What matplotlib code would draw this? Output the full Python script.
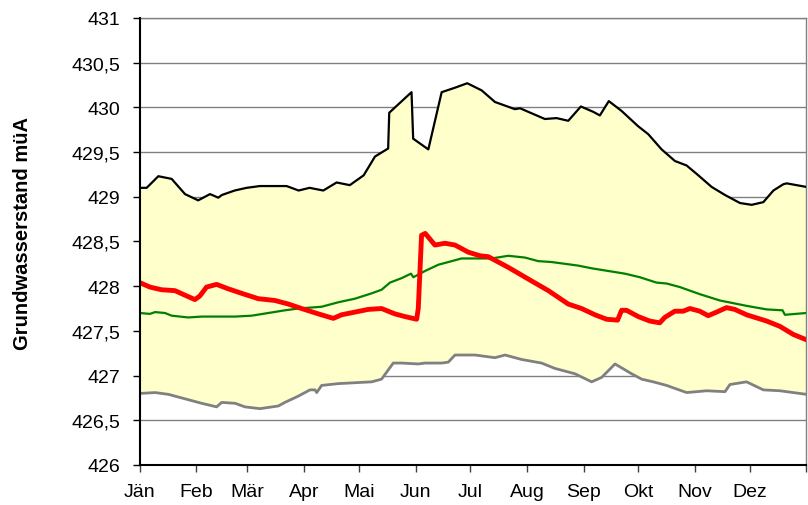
"""
plot.py
=======
Grundwasserstand im Jahresverlauf: Schwankungsbereich (Min/Max),
langjähriges Mittel und aktueller Verlauf.
"""

import matplotlib
matplotlib.use("Agg")
import matplotlib.pyplot as plt
from matplotlib.ticker import FuncFormatter, MultipleLocator

plt.rcParams["font.family"] = ["Liberation Sans", "DejaVu Sans"]

# ---------------------------------------------------------------------------
# Data (Tag im Jahr -> Wasserstand in m ü.A.)
# ---------------------------------------------------------------------------

month_labels = ["Jän", "Feb", "Mär", "Apr", "Mai", "Jun",
                "Jul", "Aug", "Sep", "Okt", "Nov", "Dez"]
month_starts = [0, 31, 59, 90, 120, 151, 181, 212, 243, 273, 304, 334]

max_days = [0, 3.8, 10.2, 17.5, 24.8, 32, 38.5, 43, 45, 52, 58.5, 65.8,
            74, 80.4, 87, 93, 100.5, 107.8, 115, 122.6, 128.8, 136, 136.6,
            148.8, 149.7, 158, 165.3, 172.6, 179.3, 187.2, 194.5, 205.4,
            208.2, 221.8, 228.2, 234.6, 241.5, 248.3, 251.9, 256.8, 263.8,
            272.8, 278.4, 285.7, 293, 299.4, 305.8, 313.1, 320.4, 328.6,
            335, 341.4, 346.9, 352.3, 354.2, 365]
max_vals = [429.10, 429.10, 429.23, 429.20, 429.03, 428.96, 429.03, 428.99,
            429.02, 429.07, 429.10, 429.12, 429.12, 429.12, 429.07, 429.10,
            429.07, 429.16, 429.13, 429.24, 429.45, 429.54, 429.94, 430.17,
            429.65, 429.53, 430.17, 430.22, 430.27, 430.19, 430.06, 429.98,
            429.99, 429.87, 429.88, 429.85, 430.01, 429.95, 429.91, 430.07,
            429.96, 429.79, 429.70, 429.53, 429.40, 429.35, 429.24, 429.11,
            429.02, 428.93, 428.91, 428.94, 429.07, 429.14, 429.15, 429.11]

min_days = [0, 8.4, 15.7, 24.8, 33.9, 42.1, 44.9, 52.2, 57.6, 65.8, 75.9,
            79.5, 86.8, 93.2, 96, 96.9, 99.6, 108.7, 127, 132.4, 138.8,
            143.4, 152.5, 156.2, 165.3, 168.9, 172.6, 183.5, 194.5, 200,
            209.1, 220, 227.3, 238.3, 247.4, 252.9, 260.2, 269.3, 274.8,
            281.1, 288.4, 299.4, 310.3, 320.4, 323.1, 332.2, 341.4, 350.5, 365]
min_vals = [426.80, 426.81, 426.79, 426.74, 426.69, 426.65, 426.70, 426.69,
            426.65, 426.63, 426.66, 426.70, 426.77, 426.84, 426.84, 426.81,
            426.89, 426.91, 426.93, 426.96, 427.14, 427.14, 427.13, 427.14,
            427.14, 427.15, 427.23, 427.23, 427.20, 427.23, 427.18, 427.14,
            427.08, 427.02, 426.93, 426.98, 427.13, 427.02, 426.96, 426.93,
            426.89, 426.81, 426.83, 426.82, 426.90, 426.93, 426.84, 426.83,
            426.79]

mean_days = [0, 5.6, 8.4, 13.8, 17.5, 26.6, 34, 43, 52.2, 61.3, 70.4, 79.5,
             86.8, 93.2, 99.6, 108.7, 117.8, 127, 132.4, 137, 143.4, 148.5,
             149.8, 156.2, 163.5, 170.8, 176.2, 186.3, 192.6, 201.8, 210.9,
             218.2, 225.5, 232.8, 240.1, 247.4, 256.5, 265.6, 273.8, 282.9,
             288.4, 295.7, 306.7, 317.6, 332.2, 343.2, 351.9, 353.2, 365]
mean_vals = [427.70, 427.69, 427.71, 427.70, 427.67, 427.65, 427.66, 427.66,
             427.66, 427.67, 427.70, 427.73, 427.75, 427.76, 427.77, 427.82,
             427.86, 427.92, 427.96, 428.04, 428.09, 428.14, 428.10, 428.17,
             428.24, 428.28, 428.31, 428.31, 428.31, 428.34, 428.32, 428.28,
             428.27, 428.25, 428.23, 428.20, 428.17, 428.14, 428.10, 428.04,
             428.03, 427.99, 427.91, 427.84, 427.78, 427.74, 427.73, 427.68,
             427.70]

cur_days = [0, 5.6, 11.9, 19.3, 24.7, 30.2, 32.9, 36.6, 42.1, 48.5, 55.8,
            64.9, 74, 81.4, 88.6, 93.2, 97.8, 106, 110.5, 117.8, 125.1,
            132.4, 139.7, 145.2, 151.6, 152.5, 154.3, 156.3, 161.6, 167.1,
            172.6, 179.9, 186.3, 190.8, 201.8, 212.7, 223.7, 234.6, 241.9,
            249.2, 255.6, 261.6, 263.8, 266.5, 272.9, 279.2, 284.7, 287.4,
            292.9, 297.5, 301.2, 306.6, 311.2, 315.8, 321.2, 325.8, 332.2,
            343.2, 350.5, 357.8, 365]
cur_vals = [428.04, 427.99, 427.96, 427.95, 427.90, 427.85, 427.89, 427.99,
            428.02, 427.97, 427.92, 427.86, 427.84, 427.80, 427.75, 427.72,
            427.69, 427.64, 427.68, 427.71, 427.74, 427.75, 427.69, 427.66,
            427.63, 427.75, 428.57, 428.59, 428.46, 428.48, 428.46, 428.38,
            428.34, 428.33, 428.21, 428.08, 427.95, 427.80, 427.75, 427.68,
            427.63, 427.62, 427.73, 427.73, 427.66, 427.61, 427.59, 427.65,
            427.72, 427.72, 427.75, 427.72, 427.67, 427.71, 427.76, 427.74,
            427.68, 427.61, 427.55, 427.46, 427.40]


# ---------------------------------------------------------------------------
# Plotting
# ---------------------------------------------------------------------------

def comma_fmt(v, _pos):
    return f"{v:g}".replace(".", ",")


def main():
    fig = plt.figure(figsize=(8.08, 5.06), dpi=100)
    ax = fig.add_axes([0.1729, 0.0791, 0.8252, 0.8834])

    # range between min and max as one closed polygon
    ax.fill(max_days + min_days[::-1], max_vals + min_vals[::-1],
            color="#ffffcc", lw=0, zorder=1)

    ax.plot(max_days, max_vals, color="black", lw=1.6, zorder=3)
    ax.plot(min_days, min_vals, color="#808080", lw=2.0, zorder=3)
    ax.plot(mean_days, mean_vals, color="#008000", lw=1.6, zorder=4)
    ax.plot(cur_days, cur_vals, color="#ff0000", lw=3.5, zorder=5,
            solid_joinstyle="round")

    ax.set_xlim(0, 365)
    ax.set_ylim(426, 431)

    ax.yaxis.set_major_locator(MultipleLocator(0.5))
    ax.yaxis.set_major_formatter(FuncFormatter(comma_fmt))
    ax.grid(axis="y", color="#808080", lw=1.0, zorder=0)
    ax.set_axisbelow(True)

    ax.set_xticks(month_starts + [365])
    ax.set_xticklabels(month_labels + [""])

    ax.tick_params(axis="y", direction="out", length=5, width=1,
                   labelsize=14, pad=9)
    ax.tick_params(axis="x", direction="out", length=5, width=1,
                   labelsize=14, pad=8, color="#404040")

    for side in ("left", "bottom"):
        ax.spines[side].set_color("black")
        ax.spines[side].set_linewidth(1.5)
        ax.spines[side].set_zorder(6)
    for side in ("top", "right"):
        ax.spines[side].set_color("#808080")
        ax.spines[side].set_linewidth(1.0)

    fig.text(22.5 / 808, 1 - 233 / 506, "Grundwasserstand müA",
             rotation=90, ha="center", va="center",
             fontsize=14.5, fontweight="bold")

    fig.savefig("out.png", dpi=100)
    plt.close(fig)


if __name__ == "__main__":
    main()
